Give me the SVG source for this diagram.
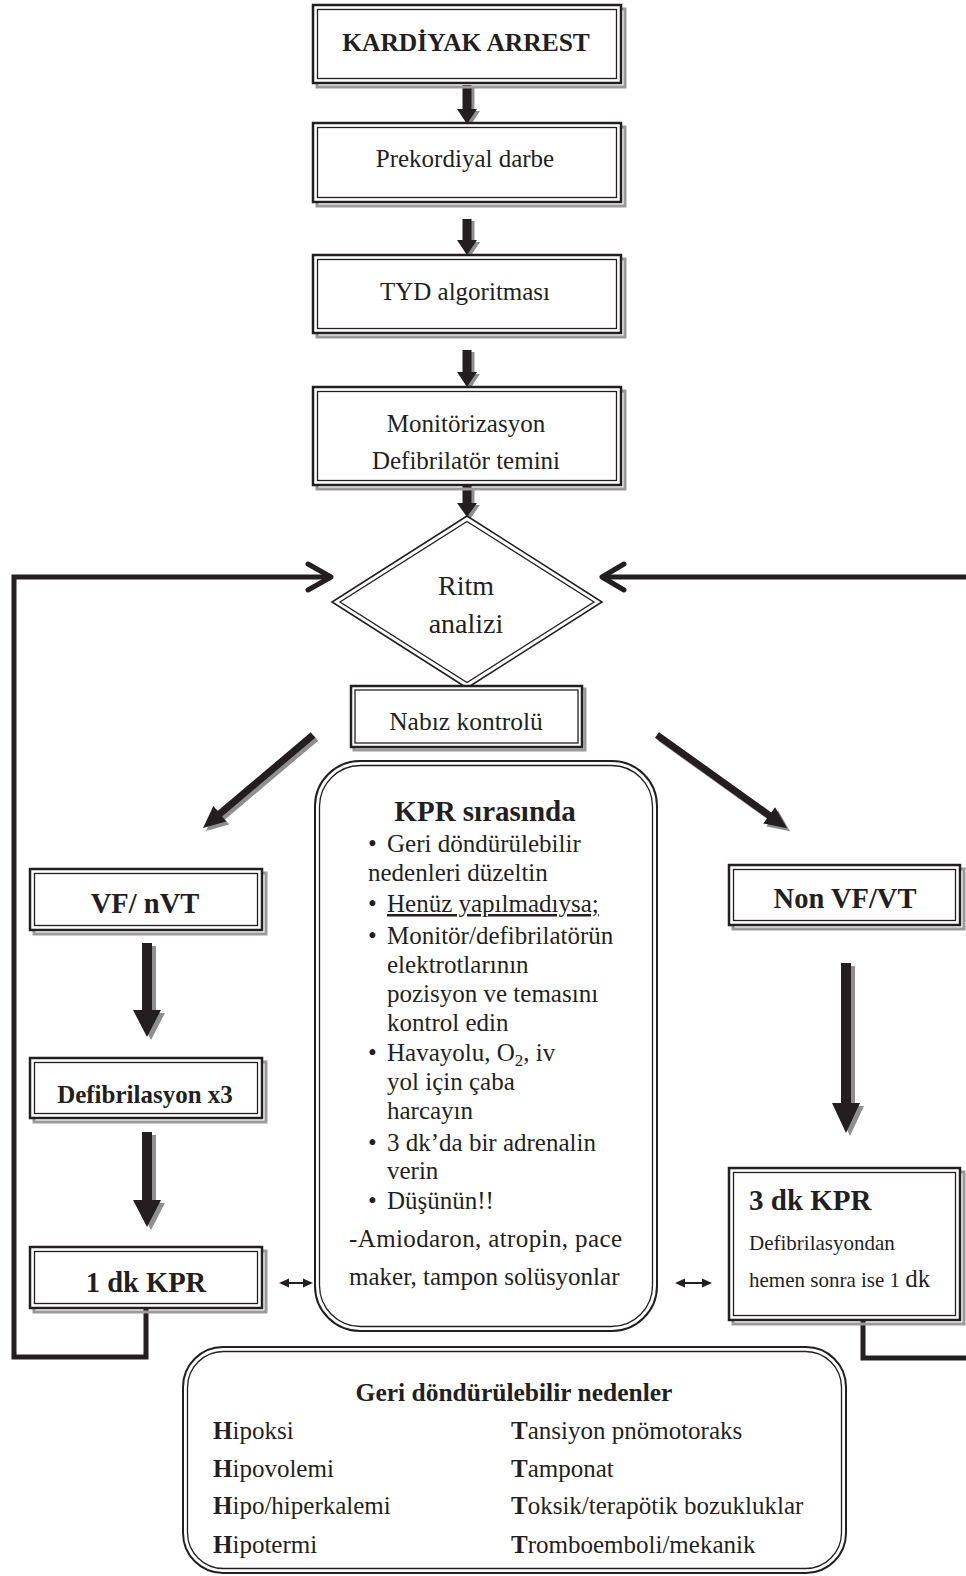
<svg xmlns="http://www.w3.org/2000/svg" width="966" height="1576" viewBox="0 0 966 1576">
<style>
text{font-family:"Liberation Serif","Times New Roman",serif;fill:#231f20}
.b{font-weight:bold}
.c{text-anchor:middle}
.sh{fill:none;stroke:#9a9a9a;stroke-width:3}
.o{fill:#fff;stroke:#231f20;stroke-width:2.5}
.i{fill:none;stroke:#231f20;stroke-width:1.3}
.ar{fill:#231f20}
.as{fill:#8f8f8f}
.loop{fill:none;stroke:#231f20;stroke-width:5;stroke-linejoin:miter}
.chev{fill:none;stroke:#231f20;stroke-width:5;stroke-linecap:round;stroke-linejoin:round}
.thin{stroke:#231f20;stroke-width:2}
</style>

<g id="connectors">
  <polygon class="as" transform="translate(3,2)" points="462.5,85 471.5,85 471.5,109 477,109 467,124 457,109 462.5,109"/>
  <polygon class="ar" points="462.5,85 471.5,85 471.5,109 477,109 467,124 457,109 462.5,109"/>
  <polygon class="as" transform="translate(3,2)" points="462.5,219 471.5,219 471.5,240 477,240 467,255 457,240 462.5,240"/>
  <polygon class="ar" points="462.5,219 471.5,219 471.5,240 477,240 467,255 457,240 462.5,240"/>
  <polygon class="as" transform="translate(3,2)" points="462.5,350 471.5,350 471.5,372 477,372 467,387 457,372 462.5,372"/>
  <polygon class="ar" points="462.5,350 471.5,350 471.5,372 477,372 467,387 457,372 462.5,372"/>
  <polygon class="as" transform="translate(3,2)" points="462.5,486 471.5,486 471.5,503 477,503 467,517 457,503 462.5,503"/>
  <polygon class="ar" points="462.5,486 471.5,486 471.5,503 477,503 467,517 457,503 462.5,503"/>

  <path class="loop" d="M146,1309 V1357 H14 V577 H330"/>
  <path class="chev" d="M308,564 L331,577 L308,590"/>
  <path class="loop" d="M602,577 H966"/>
  <path class="chev" d="M624,564 L602,577 L624,590"/>
  <path class="loop" d="M863,1321 V1358 H966"/>

  <g transform="translate(3,3)"><polygon class="as" transform="translate(313,735) rotate(139.8)" points="0,-3.5 122,-3.5 122,-10 144,0 122,10 122,3.5 0,3.5"/></g>
  <polygon class="ar" transform="translate(313,735) rotate(139.8)" points="0,-3.5 122,-3.5 122,-10 144,0 122,10 122,3.5 0,3.5"/>
  <g transform="translate(3,3)"><polygon class="as" transform="translate(657,735) rotate(35.6)" points="0,-3.5 138,-3.5 138,-10 160,0 138,10 138,3.5 0,3.5"/></g>
  <polygon class="ar" transform="translate(657,735) rotate(35.6)" points="0,-3.5 138,-3.5 138,-10 160,0 138,10 138,3.5 0,3.5"/>

  <polygon class="as" transform="translate(4,3)" points="142,943 152,943 152,1010 161,1010 147,1037 133,1010 142,1010"/>
  <polygon class="ar" points="142,943 152,943 152,1010 161,1010 147,1037 133,1010 142,1010"/>
  <polygon class="as" transform="translate(4,3)" points="142,1132 152,1132 152,1200 161,1200 147,1227 133,1200 142,1200"/>
  <polygon class="ar" points="142,1132 152,1132 152,1200 161,1200 147,1227 133,1200 142,1200"/>
  <polygon class="as" transform="translate(4,3)" points="841,963 851,963 851,1103 860,1103 846,1133 832,1103 841,1103"/>
  <polygon class="ar" points="841,963 851,963 851,1103 860,1103 846,1133 832,1103 841,1103"/>

  <line class="thin" x1="286" y1="1283" x2="306" y2="1283"/>
  <polygon class="ar" points="279,1283 289,1278.5 289,1287.5"/>
  <polygon class="ar" points="313,1283 303,1278.5 303,1287.5"/>
  <line class="thin" x1="682" y1="1283" x2="705" y2="1283"/>
  <polygon class="ar" points="675,1283 685,1278.5 685,1287.5"/>
  <polygon class="ar" points="712,1283 702,1278.5 702,1287.5"/>
</g>

<g id="n-kardiyak">
  <rect class="sh" x="317" y="9" width="308" height="78"/>
  <rect class="o" x="313" y="5" width="308" height="78"/>
  <rect class="i" x="317.5" y="9.5" width="299" height="69"/>
  <text class="b c" x="466" y="51" font-size="25.5">KARDİYAK ARREST</text>
</g>

<g id="n-prekordiyal">
  <rect class="sh" x="317" y="127" width="308" height="79"/>
  <rect class="o" x="313" y="123" width="308" height="79"/>
  <rect class="i" x="317.5" y="127.5" width="299" height="70"/>
  <text class="c" x="465" y="167" font-size="25">Prekordiyal darbe</text>
</g>

<g id="n-tyd">
  <rect class="sh" x="317" y="259" width="308" height="78"/>
  <rect class="o" x="313" y="255" width="308" height="78"/>
  <rect class="i" x="317.5" y="259.5" width="299" height="69"/>
  <text class="c" x="465" y="300" font-size="25">TYD algoritması</text>
</g>

<g id="n-monitor">
  <rect class="sh" x="317" y="391" width="308" height="98"/>
  <rect class="o" x="313" y="387" width="308" height="98"/>
  <rect class="i" x="317.5" y="391.5" width="299" height="89"/>
  <text class="c" x="466" y="432" font-size="25">Monitörizasyon</text>
  <text class="c" x="466" y="469" font-size="25">Defibrilatör temini</text>
</g>

<g id="n-ritm">
  <polygon fill="#fff" stroke="#231f20" stroke-width="1.6" points="467,516 602,602 467,688 332,602"/>
  <polygon fill="none" stroke="#231f20" stroke-width="1.3" points="467,521.5 594,602 467,682.5 340,602"/>
  <text class="c" x="466" y="595" font-size="28">Ritm</text>
  <text class="c" x="466" y="633" font-size="28">analizi</text>
</g>

<g id="n-nabiz">
  <rect class="sh" x="354" y="689" width="231" height="61"/>
  <rect class="o" x="351" y="686" width="231" height="61"/>
  <rect class="i" x="355" y="690" width="223" height="53"/>
  <text class="c" x="466" y="730" font-size="25.5">Nabız kontrolü</text>
</g>

<g id="n-vf">
  <rect class="sh" x="34" y="873" width="232" height="61"/>
  <rect class="o" x="30" y="869" width="232" height="61"/>
  <rect class="i" x="34.5" y="873.5" width="223" height="52"/>
  <text class="b c" x="145" y="913" font-size="28.5">VF/ nVT</text>
</g>

<g id="n-defib">
  <rect class="sh" x="34" y="1062" width="232" height="60"/>
  <rect class="o" x="30" y="1058" width="232" height="60"/>
  <rect class="i" x="34.5" y="1062.5" width="223" height="51"/>
  <text class="b c" x="145" y="1103" font-size="25">Defibrilasyon x3</text>
</g>

<g id="n-1dk">
  <rect class="sh" x="34" y="1251" width="232" height="61"/>
  <rect class="o" x="30" y="1247" width="232" height="61"/>
  <rect class="i" x="34.5" y="1251.5" width="223" height="52"/>
  <text class="b c" x="146" y="1292" font-size="28.5">1 dk KPR</text>
</g>

<g id="n-nonvf">
  <rect class="sh" x="733" y="869" width="231" height="60"/>
  <rect class="o" x="729" y="865" width="231" height="60"/>
  <rect class="i" x="733.5" y="869.5" width="222" height="51"/>
  <text class="b c" x="845" y="908" font-size="28.5">Non VF/VT</text>
</g>

<g id="n-3dk">
  <rect class="sh" x="733" y="1172" width="231" height="152"/>
  <rect class="o" x="729" y="1168" width="231" height="152"/>
  <rect class="i" x="733.5" y="1172.5" width="222" height="143"/>
  <text class="b" x="749" y="1210" font-size="29">3 dk KPR</text>
  <text x="749" y="1250" font-size="21">Defibrilasyondan</text>
  <text x="749" y="1287" font-size="21">hemen sonra ise 1 <tspan font-size="25">dk</tspan></text>
</g>

<g id="n-kpr-sirasinda">
  <rect fill="#fff" stroke="#231f20" stroke-width="2" x="315" y="761" width="342" height="570" rx="45"/>
  <rect fill="none" stroke="#231f20" stroke-width="1.3" x="319.5" y="765.5" width="333" height="561" rx="41"/>
  <text class="b c" x="485" y="821" font-size="29">KPR sırasında</text>
  <g font-size="25">
    <text x="368" y="852">•</text><text x="387" y="852">Geri döndürülebilir</text>
    <text x="368" y="881">nedenleri düzeltin</text>
    <text x="368" y="912">•</text><text x="387" y="912" text-decoration="underline">Henüz yapılmadıysa;</text>
    <text x="368" y="944">•</text><text x="387" y="944">Monitör/defibrilatörün</text>
    <text x="387" y="973">elektrotlarının</text>
    <text x="387" y="1002">pozisyon ve temasını</text>
    <text x="387" y="1031">kontrol edin</text>
    <text x="368" y="1061">•</text><text x="387" y="1061">Havayolu, O<tspan font-size="17" dy="5">2</tspan><tspan dy="-5">, iv</tspan></text>
    <text x="387" y="1090">yol için çaba</text>
    <text x="387" y="1119">harcayın</text>
    <text x="368" y="1151">•</text><text x="387" y="1151">3 dk’da bir adrenalin</text>
    <text x="387" y="1179">verin</text>
    <text x="368" y="1209">•</text><text x="387" y="1209">Düşünün!!</text>
    <text x="349" y="1247" textLength="273" lengthAdjust="spacing">-Amiodaron, atropin, pace</text>
    <text x="349" y="1285">maker, tampon solüsyonlar</text>
  </g>
</g>

<g id="n-geri-nedenler">
  <rect fill="#fff" stroke="#231f20" stroke-width="2" x="183" y="1347" width="663" height="226" rx="40"/>
  <rect fill="none" stroke="#231f20" stroke-width="1.3" x="187.5" y="1351.5" width="654" height="217" rx="36"/>
  <text class="b c" x="514" y="1401" font-size="25.5">Geri döndürülebilir nedenler</text>
  <g font-size="25">
    <text x="213" y="1439"><tspan class="b">H</tspan>ipoksi</text>
    <text x="213" y="1477"><tspan class="b">H</tspan>ipovolemi</text>
    <text x="213" y="1514"><tspan class="b">H</tspan>ipo/hiperkalemi</text>
    <text x="213" y="1553"><tspan class="b">H</tspan>ipotermi</text>
    <text x="511" y="1439"><tspan class="b">T</tspan>ansiyon pnömotoraks</text>
    <text x="511" y="1477"><tspan class="b">T</tspan>amponat</text>
    <text x="511" y="1514"><tspan class="b">T</tspan>oksik/terapötik bozukluklar</text>
    <text x="511" y="1553"><tspan class="b">T</tspan>romboemboli/mekanik</text>
  </g>
</g>
</svg>
